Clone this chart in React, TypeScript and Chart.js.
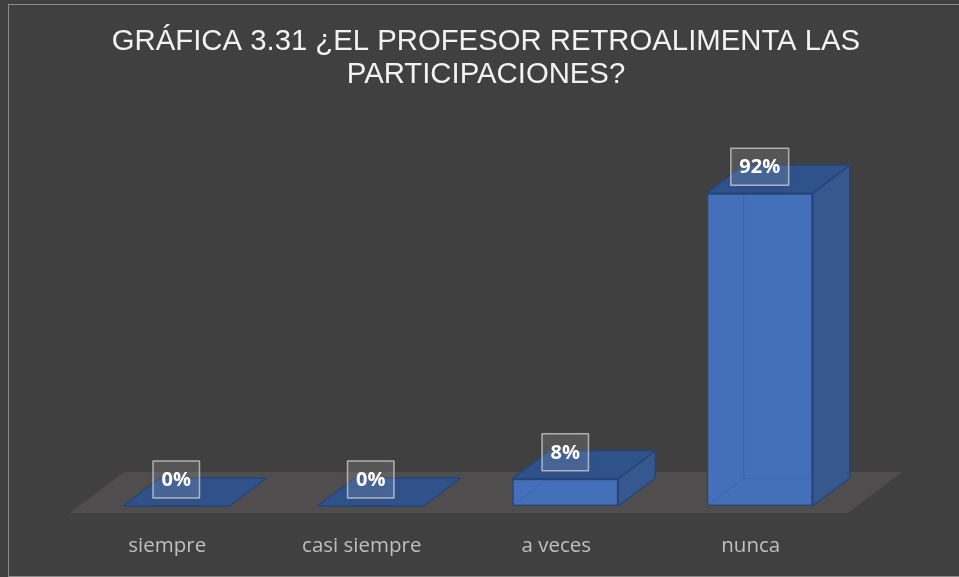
import React, { useEffect, useRef } from 'react';
import { Chart, registerables } from 'chart.js';

Chart.register(...registerables);

const TITLE_LINES = ['GRÁFICA 3.31 ¿EL PROFESOR RETROALIMENTA LAS', 'PARTICIPACIONES?'];
const CATEGORIES = ['siempre', 'casi siempre', 'a veces', 'nunca'];
const PERCENTS = [0, 0, 8, 92];
const VALUE_LABELS = ['0%', '0%', '8%', '92%'];

const BG = '#404040';
const FRONT = '#4470b9';
const SIDE = '#36588f';
const TOP = '#30528b';
const EDGE = '#25457a';
const FLOOR = '#4f4d4d';

const DEPTH_X = 37;
const DEPTH_Y = -28;
const FLOOR_DX = 54;
const FLOOR_DY = -41;

function poly(ctx: CanvasRenderingContext2D, pts: number[][], fill: string, stroke?: string) {
  ctx.beginPath();
  ctx.moveTo(pts[0][0], pts[0][1]);
  for (let i = 1; i < pts.length; i++) ctx.lineTo(pts[i][0], pts[i][1]);
  ctx.closePath();
  ctx.fillStyle = fill;
  ctx.fill();
  if (stroke) {
    ctx.strokeStyle = stroke;
    ctx.lineWidth = 1.5;
    ctx.lineJoin = 'round';
    ctx.stroke();
  }
}

const bar3dPlugin = {
  id: 'bar3d',
  beforeDraw(chart: any) {
    const ctx = chart.ctx as CanvasRenderingContext2D;
    ctx.save();
    ctx.fillStyle = BG;
    ctx.fillRect(0, 0, chart.width, chart.height);
    ctx.strokeStyle = '#8c8c8c';
    ctx.lineWidth = 1;
    ctx.strokeRect(8.5, 4.5, chart.width + 10, chart.height - 5);
    ctx.restore();
  },
  beforeDatasetsDraw(chart: any) {
    const ctx = chart.ctx as CanvasRenderingContext2D;
    const area = chart.chartArea;
    const y0 = chart.scales.y.getPixelForValue(0) + 7;
    const l = area.left - 9;
    const r = area.right - 9;
    ctx.save();
    poly(ctx, [
      [l, y0],
      [r, y0],
      [r + FLOOR_DX, y0 + FLOOR_DY],
      [l + FLOOR_DX, y0 + FLOOR_DY],
    ], FLOOR);
    ctx.restore();
  },
  afterDatasetsDraw(chart: any) {
    const ctx = chart.ctx as CanvasRenderingContext2D;
    const meta = chart.getDatasetMeta(0);
    ctx.save();
    meta.data.forEach((el: any) => {
      const { x, y, base, width } = el.getProps(['x', 'y', 'base', 'width'], true);
      const left = x - width / 2;
      const right = x + width / 2;
      const h = base - y;
      if (h > 0.5) {
        ctx.strokeStyle = 'rgba(45,80,145,0.35)';
        ctx.lineWidth = 1;
        ctx.beginPath();
        ctx.moveTo(left, base);
        ctx.lineTo(left + DEPTH_X, base + DEPTH_Y);
        ctx.lineTo(right + DEPTH_X, base + DEPTH_Y);
        ctx.moveTo(left + DEPTH_X, base + DEPTH_Y);
        ctx.lineTo(left + DEPTH_X, y + DEPTH_Y);
        ctx.stroke();
        poly(ctx, [
          [right, y],
          [right + DEPTH_X, y + DEPTH_Y],
          [right + DEPTH_X, base + DEPTH_Y],
          [right, base],
        ], SIDE, EDGE);
      }
      poly(ctx, [
        [left, y],
        [left + DEPTH_X, y + DEPTH_Y],
        [right + DEPTH_X, y + DEPTH_Y],
        [right, y],
      ], TOP, EDGE);
    });
    ctx.font = 'bold 20px "Open Sans"';
    ctx.textAlign = 'center';
    ctx.textBaseline = 'middle';
    meta.data.forEach((el: any, i: number) => {
      const { x, y } = el.getProps(['x', 'y'], true);
      const text = VALUE_LABELS[i];
      const tw = ctx.measureText(text).width;
      const bw = tw + 17;
      const bh = 37;
      const cy = y - 26.5;
      ctx.save();
      ctx.shadowColor = 'rgba(0,0,0,0.25)';
      ctx.shadowBlur = 10;
      ctx.shadowOffsetY = 4;
      ctx.fillStyle = 'rgba(255,255,255,0.12)';
      ctx.fillRect(x - bw / 2, cy - bh / 2, bw, bh);
      ctx.restore();
      ctx.strokeStyle = 'rgba(210,210,210,0.75)';
      ctx.lineWidth = 1.5;
      ctx.strokeRect(x - bw / 2, cy - bh / 2, bw, bh);
      ctx.fillStyle = '#ffffff';
      ctx.fillText(text, x, cy + 1);
    });
    ctx.restore();
  },
};

export default function App() {
  const ref = useRef<HTMLCanvasElement | null>(null);

  useEffect(() => {
    if (!ref.current) return;
    const chart = new Chart(ref.current, {
      type: 'bar',
      data: {
        labels: CATEGORIES,
        datasets: [
          {
            data: PERCENTS,
            backgroundColor: FRONT,
            borderColor: EDGE,
            borderWidth: 1.5,
            borderSkipped: false,
            barPercentage: 1,
            categoryPercentage: 0.545,
          },
        ],
      },
      options: {
        responsive: false,
        animation: false,
        layout: { padding: { left: 13, right: 0, top: 0, bottom: 21 } },
        plugins: {
          legend: { display: false },
          tooltip: { enabled: false },
          title: {
            display: true,
            text: TITLE_LINES,
            color: '#f2f2f2',
            font: { family: '"Liberation Sans", Arial, sans-serif', size: 29.3, weight: 'normal', lineHeight: 1.116 },
            padding: { top: 26, bottom: 74.6 },
          },
        },
        scales: {
          x: {
            grid: { display: false, drawTicks: false },
            border: { display: false },
            ticks: {
              color: '#bfbfbf',
              font: { family: '"Open Sans", sans-serif', size: 20.5 },
              padding: 28,
              labelOffset: -9,
              maxRotation: 0,
              autoSkip: false,
            },
            afterFit(scale: any) {
              scale.height = 50;
            },
          },
          y: {
            min: 0,
            max: 100,
            grid: { display: false, drawTicks: false },
            border: { display: false },
            ticks: { display: false },
            afterFit(scale: any) {
              scale.width = 66;
            },
          },
          y2: {
            position: 'right',
            min: 0,
            max: 100,
            grid: { display: false, drawTicks: false },
            border: { display: false },
            ticks: { display: false },
            afterFit(scale: any) {
              scale.width = 102;
            },
          },
        },
      },
      plugins: [bar3dPlugin],
    });
    return () => chart.destroy();
  }, []);

  return (
    <div style={{ position: 'absolute', left: 0, top: 0, width: 959, height: 577 }}>
      <canvas ref={ref} width={959} height={577} style={{ display: 'block' }} />
    </div>
  );
}
